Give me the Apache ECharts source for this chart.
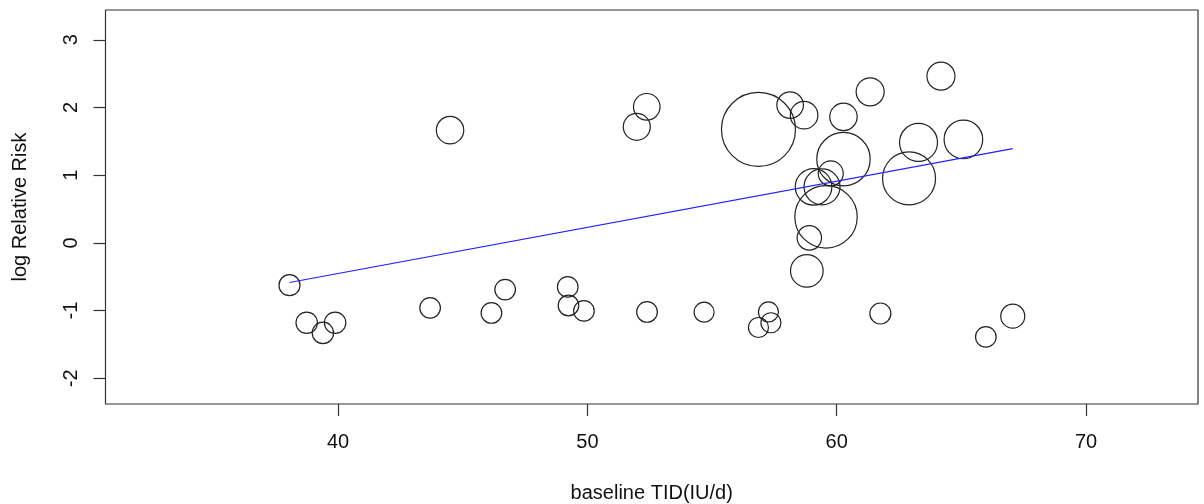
<!DOCTYPE html>
<html>
<head>
<meta charset="utf-8">
<title>baseline TID vs log Relative Risk</title>
<script src="https://cdn.jsdelivr.net/npm/echarts@6/dist/echarts.min.js"></script>
<style>
  html, body { margin: 0; padding: 0; background: #fff; }
  #chart { width: 1204px; height: 504px; }
</style>
</head>
<body>
<div id="chart"></div>
<script>
// Study-level covariate: baseline total insulin dose (IU/d)
const baselineTID = [
  38.05, 38.74, 39.39, 39.88, 43.69, 44.49, 46.15, 46.70, 49.21, 49.24,
  49.86, 51.98, 52.38, 52.39, 54.68, 56.86, 56.86, 57.26, 57.36, 58.13,
  58.69, 58.80, 58.90, 59.07, 59.41, 59.57, 59.76, 60.27, 60.27, 61.34,
  61.75, 62.90, 63.28, 64.18, 65.08, 65.98, 67.06
];
// Effect size per study (log relative risk)
const logRR = [
  -0.625, -1.18, -1.33, -1.18, -0.96, 1.665, -1.035, -0.69, -0.65, -0.925,
  -1.005, 1.714, 2.01, -1.02, -1.024, 1.676, -1.25, -1.02, -1.18, 2.035,
  1.887, -0.414, 0.074, 0.828, 0.828, 0.384, 1.026, 1.862, 1.237, 2.231,
  -1.043, 0.952, 1.484, 2.463, 1.528, -1.389, -1.083
];
// Relative study weight (bubble radius is proportional to it)
const studyWeight = [
  1.05, 1.07, 1.07, 1.07, 1.03, 1.37, 1.03, 1.03, 1.03, 1.03,
  1.03, 1.35, 1.33, 1.03, 1.00, 3.70, 1.00, 1.00, 1.00, 1.33,
  1.38, 1.63, 1.22, 1.83, 1.80, 3.12, 1.25, 1.37, 2.67, 1.40,
  1.05, 2.65, 1.90, 1.40, 1.93, 1.03, 1.20
];
// Fitted meta-regression line, evaluated at the covariate range
const fitX = [38.05, 67.06];
const fitY = [-0.585, 1.393];

// Tick labels
const xTicks = [40, 50, 60, 70];
const yTicks = [-2, -1, 0, 1, 2, 3];

const FONT = 'Liberation Sans, Arial, sans-serif';
const INK = '#222';

const bubbles = baselineTID.map((x, i) => [x, logRR[i], studyWeight[i]]);
const fitLine = fitX.map((x, i) => [x, fitY[i]]);

const chart = echarts.init(document.getElementById('chart'), null, { renderer: 'canvas' });

chart.setOption({
  animation: false,
  backgroundColor: '#fff',
  textStyle: { fontFamily: FONT },
  grid: {
    left: 105.5, right: 6, top: 10, bottom: 100,
    outerBoundsMode: 'none',
    containLabel: false,
    show: true, borderColor: '#333', borderWidth: 1.2,
    backgroundColor: 'transparent'
  },
  xAxis: {
    type: 'value',
    min: 30.67, max: 74.49,
    name: 'baseline TID(IU/d)',
    nameLocation: 'middle',
    nameGap: 79,
    nameTextStyle: { fontSize: 20, color: '#111', fontFamily: FONT },
    axisLine: { show: false, onZero: false },
    splitLine: { show: false },
    axisTick: {
      show: true, inside: false, length: 12,
      customValues: xTicks,
      lineStyle: { color: '#333', width: 1.2 }
    },
    axisLabel: {
      customValues: xTicks,
      margin: 28,
      fontSize: 20, color: '#111', fontFamily: FONT
    }
  },
  yAxis: {
    type: 'value',
    min: -2.38, max: 3.44,
    name: 'log Relative Risk',
    nameLocation: 'middle',
    nameGap: 75,
    nameTextStyle: { fontSize: 20, color: '#111', fontFamily: FONT },
    axisLine: { show: false, onZero: false },
    splitLine: { show: false },
    axisTick: {
      show: true, inside: false, length: 12,
      customValues: yTicks,
      lineStyle: { color: '#333', width: 1.2 }
    },
    axisLabel: {
      customValues: yTicks,
      rotate: 90,
      margin: 24,
      fontSize: 20, color: '#111', fontFamily: FONT
    }
  },
  series: [
    {
      type: 'scatter',
      data: bubbles,
      symbol: 'circle',
      symbolSize: d => d[2] * 20,
      itemStyle: { color: 'rgba(0,0,0,0)', borderColor: INK, borderWidth: 1.2, opacity: 1 },
      emphasis: { disabled: true },
      silent: true,
      z: 2
    },
    {
      type: 'line',
      data: fitLine,
      showSymbol: false,
      symbol: 'none',
      lineStyle: { color: '#2020ff', width: 1.2 },
      emphasis: { disabled: true },
      silent: true,
      z: 3
    }
  ]
});
</script>
</body>
</html>
